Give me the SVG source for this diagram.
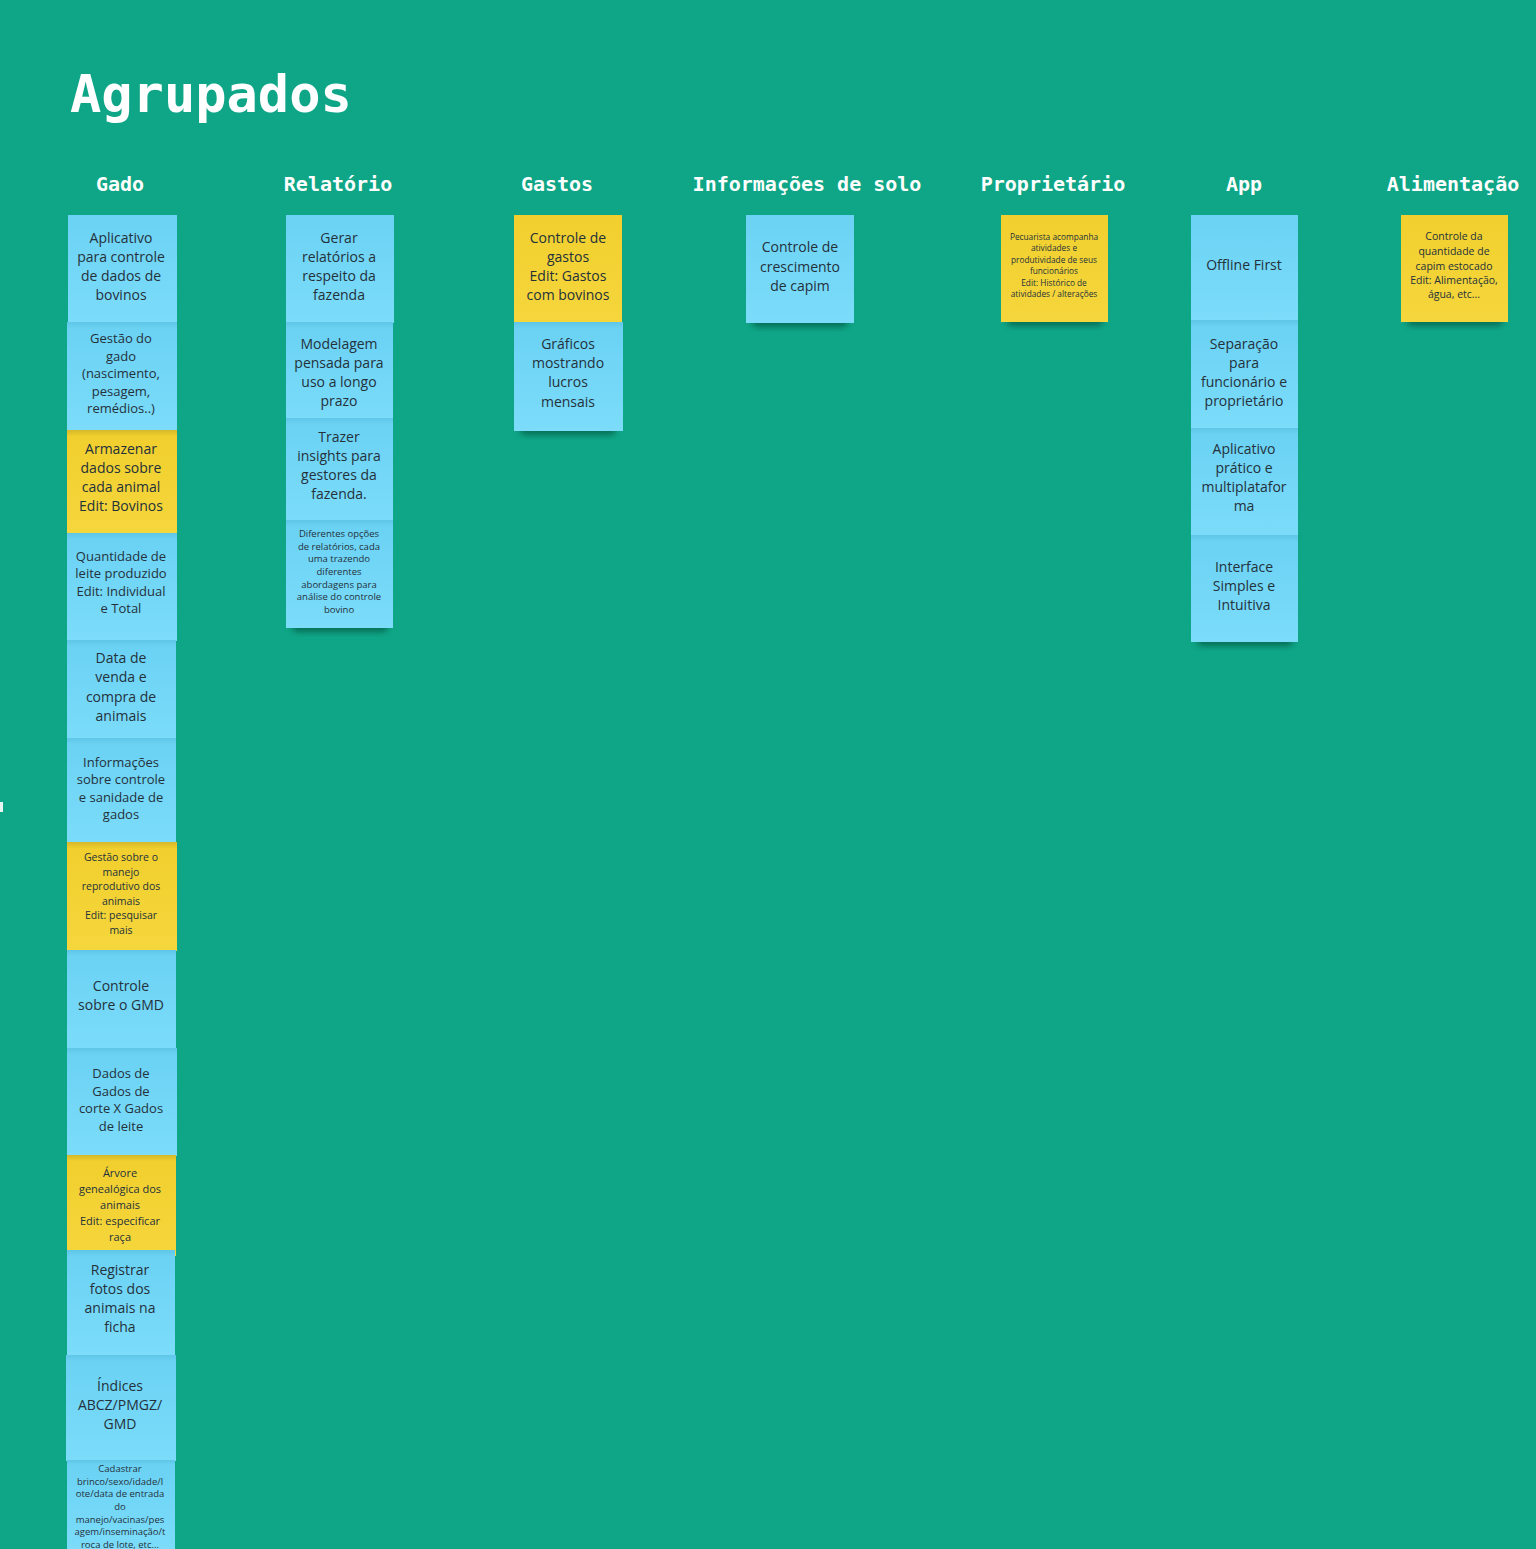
<svg xmlns="http://www.w3.org/2000/svg" width="1536" height="1549" viewBox="0 0 1536 1549">
<defs>
<filter id="sh" x="-20%" y="-50%" width="140%" height="200%"><feGaussianBlur stdDeviation="3"/></filter>
<linearGradient id="gb" x1="0" y1="0" x2="0" y2="1"><stop offset="0" stop-color="#5FC6E8"/><stop offset="0.06" stop-color="#6BD2F4"/><stop offset="1" stop-color="#7CDCFA"/></linearGradient>
<linearGradient id="gb0" x1="0" y1="0" x2="0" y2="1"><stop offset="0" stop-color="#6BD2F4"/><stop offset="1" stop-color="#7CDCFA"/></linearGradient>
<linearGradient id="gy" x1="0" y1="0" x2="0" y2="1"><stop offset="0" stop-color="#D6B829"/><stop offset="0.06" stop-color="#F1CF2E"/><stop offset="1" stop-color="#F5D63C"/></linearGradient>
<linearGradient id="gy0" x1="0" y1="0" x2="0" y2="1"><stop offset="0" stop-color="#F1CF2E"/><stop offset="1" stop-color="#F5D63C"/></linearGradient>
</defs>
<style>
.bg{fill:#0FA687}
.title{font-family:"DejaVu Sans Mono","Liberation Mono",monospace;font-weight:bold;fill:#fff}
.h{font-family:"DejaVu Sans Mono","Liberation Mono",monospace;font-weight:bold;font-size:20px;fill:#fff;text-anchor:middle}
.b{fill:url(#gb)}
.b0{fill:url(#gb0)}
.y{fill:url(#gy)}
.y0{fill:url(#gy0)}
.t{font-family:"Open Sans","Noto Sans",sans-serif;fill:#24313b;text-anchor:middle}
.s14{font-size:14px}
.s13{font-size:13px}
.s11{font-size:11px}
.s10{font-size:10.5px}
.s9{font-size:9.5px}
.s8{font-size:8.3px}
.shadow{fill:#06402f;opacity:0.55;filter:url(#sh)}
</style>
<rect class="bg" x="0" y="0" width="1536" height="1549"/>
<rect x="0" y="802" width="3" height="10" fill="#e8f4f0"/>
<text class="title" x="70" y="112" font-size="52">Agrupados</text>
<g id="headers">
<text class="h" x="120" y="191">Gado</text>
<text class="h" x="338" y="191">Relatório</text>
<text class="h" x="557" y="191">Gastos</text>
<text class="h" x="807" y="191">Informações de solo</text>
<text class="h" x="1053" y="191">Proprietário</text>
<text class="h" x="1244" y="191">App</text>
<text class="h" x="1453" y="191">Alimentação</text>
</g>
<g id="shadows">
<rect class="shadow" x="292" y="622" width="96" height="10" rx="5"/>
<rect class="shadow" x="520" y="425" width="96" height="10" rx="5"/>
<rect class="shadow" x="752" y="317" width="96" height="10" rx="5"/>
<rect class="shadow" x="1007" y="316" width="96" height="10" rx="5"/>
<rect class="shadow" x="1197" y="636" width="96" height="10" rx="5"/>
<rect class="shadow" x="1407" y="316" width="96" height="10" rx="5"/>
</g>
<g id="connectors"></g>
<g id="gado">
<g id="g1"><rect class="b0" x="68" y="215" width="109" height="108"/><text class="t s14"><tspan x="121" y="243">Aplicativo</tspan><tspan x="121" y="262">para controle</tspan><tspan x="121" y="281">de dados de</tspan><tspan x="121" y="300">bovinos</tspan></text></g>
<g id="g2"><rect class="b" x="67" y="322" width="110" height="109"/><text class="t s13"><tspan x="121" y="343">Gestão do</tspan><tspan x="121" y="360.5">gado</tspan><tspan x="121" y="378">(nascimento,</tspan><tspan x="121" y="395.5">pesagem,</tspan><tspan x="121" y="413">remédios..)</tspan></text></g>
<g id="g3"><rect class="y" x="67" y="430" width="110" height="105"/><text class="t s14"><tspan x="121" y="454">Armazenar</tspan><tspan x="121" y="473">dados sobre</tspan><tspan x="121" y="492">cada animal</tspan><tspan x="121" y="511">Edit: Bovinos</tspan></text></g>
<g id="g4"><rect class="b" x="67" y="533" width="110" height="108"/><text class="t s13"><tspan x="121" y="561">Quantidade de</tspan><tspan x="121" y="578">leite produzido</tspan><tspan x="121" y="596">Edit: Individual</tspan><tspan x="121" y="613">e Total</tspan></text></g>
<g id="g5"><rect class="b" x="67" y="640" width="109" height="106"/><text class="t s14"><tspan x="121" y="663">Data de</tspan><tspan x="121" y="682">venda e</tspan><tspan x="121" y="702">compra de</tspan><tspan x="121" y="721">animais</tspan></text></g>
<g id="g6"><rect class="b" x="67" y="738" width="109" height="105"/><text class="t s13"><tspan x="121" y="767">Informações</tspan><tspan x="121" y="784">sobre controle</tspan><tspan x="121" y="802">e sanidade de</tspan><tspan x="121" y="819">gados</tspan></text></g>
<g id="g7"><rect class="y" x="67" y="842" width="110" height="109"/><text class="t s10"><tspan x="121" y="861">Gestão sobre o</tspan><tspan x="121" y="875.5">manejo</tspan><tspan x="121" y="890">reprodutivo dos</tspan><tspan x="121" y="904.5">animais</tspan><tspan x="121" y="919">Edit: pesquisar</tspan><tspan x="121" y="933.5">mais</tspan></text></g>
<g id="g8"><rect class="b" x="67" y="950" width="109" height="100"/><text class="t s14"><tspan x="121" y="991">Controle</tspan><tspan x="121" y="1010">sobre o GMD</tspan></text></g>
<g id="g9"><rect class="b" x="67" y="1048" width="110" height="108"/><text class="t s13"><tspan x="121" y="1078">Dados de</tspan><tspan x="121" y="1096">Gados de</tspan><tspan x="121" y="1113">corte X Gados</tspan><tspan x="121" y="1131">de leite</tspan></text></g>
<g id="g10"><rect class="y" x="67" y="1155" width="109" height="101"/><text class="t s11"><tspan x="120" y="1177">Árvore</tspan><tspan x="120" y="1193">genealógica dos</tspan><tspan x="120" y="1209">animais</tspan><tspan x="120" y="1225">Edit: especificar</tspan><tspan x="120" y="1241">raça</tspan></text></g>
<g id="g11"><rect class="b" x="67" y="1250" width="108" height="106"/><text class="t s14"><tspan x="120" y="1275">Registrar</tspan><tspan x="120" y="1294">fotos dos</tspan><tspan x="120" y="1313">animais na</tspan><tspan x="120" y="1332">ficha</tspan></text></g>
<g id="g12"><rect class="b" x="66" y="1355" width="110" height="106"/><text class="t s14"><tspan x="120" y="1391">Índices</tspan><tspan x="120" y="1410">ABCZ/PMGZ/</tspan><tspan x="120" y="1429">GMD</tspan></text></g>
<g id="g13"><rect class="b" x="67" y="1460" width="108" height="89"/><text class="t s9"><tspan x="120" y="1472">Cadastrar</tspan><tspan x="120" y="1485">brinco/sexo/idade/l</tspan><tspan x="120" y="1497">ote/data de entrada</tspan><tspan x="120" y="1510">do</tspan><tspan x="120" y="1523">manejo/vacinas/pes</tspan><tspan x="120" y="1535">agem/inseminação/t</tspan><tspan x="120" y="1548">roca de lote, etc...</tspan></text></g>
</g>
<g id="relatorio">
<g id="r1"><rect class="b0" x="286" y="215" width="108" height="108"/><text class="t s14"><tspan x="339" y="243">Gerar</tspan><tspan x="339" y="262">relatórios a</tspan><tspan x="339" y="281">respeito da</tspan><tspan x="339" y="300">fazenda</tspan></text></g>
<g id="r2"><rect class="b" x="286" y="322" width="107" height="107"/><text class="t s14"><tspan x="339" y="349">Modelagem</tspan><tspan x="339" y="368">pensada para</tspan><tspan x="339" y="387">uso a longo</tspan><tspan x="339" y="406">prazo</tspan></text></g>
<g id="r3"><rect class="b" x="286" y="418" width="107" height="105"/><text class="t s14"><tspan x="339" y="442">Trazer</tspan><tspan x="339" y="461">insights para</tspan><tspan x="339" y="480">gestores da</tspan><tspan x="339" y="499">fazenda.</tspan></text></g>
<g id="r4"><rect class="b" x="286" y="520" width="107" height="108"/><text class="t s9"><tspan x="339" y="537">Diferentes opções</tspan><tspan x="339" y="550">de relatórios, cada</tspan><tspan x="339" y="562">uma trazendo</tspan><tspan x="339" y="575">diferentes</tspan><tspan x="339" y="588">abordagens para</tspan><tspan x="339" y="600">análise do controle</tspan><tspan x="339" y="613">bovino</tspan></text></g>
</g>
<g id="gastos">
<g id="ga1"><rect class="y0" x="514" y="215" width="108" height="108"/><text class="t s14"><tspan x="568" y="243">Controle de</tspan><tspan x="568" y="262">gastos</tspan><tspan x="568" y="281">Edit: Gastos</tspan><tspan x="568" y="300">com bovinos</tspan></text></g>
<g id="ga2"><rect class="b" x="514" y="322" width="109" height="109"/><text class="t s14"><tspan x="568" y="349">Gráficos</tspan><tspan x="568" y="368">mostrando</tspan><tspan x="568" y="387">lucros</tspan><tspan x="568" y="407">mensais</tspan></text></g>
</g>
<g id="solo">
<g id="s1"><rect class="b0" x="746" y="215" width="108" height="108"/><text class="t s14"><tspan x="800" y="252">Controle de</tspan><tspan x="800" y="272">crescimento</tspan><tspan x="800" y="291">de capim</tspan></text></g>
</g>
<g id="proprietario">
<g id="p1"><rect class="y0" x="1001" y="215" width="107" height="107"/><text class="t s8"><tspan x="1054" y="240">Pecuarista acompanha</tspan><tspan x="1054" y="251">atividades e</tspan><tspan x="1054" y="263">produtividade de seus</tspan><tspan x="1054" y="274">funcionários</tspan><tspan x="1054" y="286">Edit: Histórico de</tspan><tspan x="1054" y="297">atividades / alterações</tspan></text></g>
</g>
<g id="app">
<g id="a1"><rect class="b0" x="1191" y="215" width="107" height="106"/><text class="t s14"><tspan x="1244" y="270">Offline First</tspan></text></g>
<g id="a2"><rect class="b" x="1191" y="320" width="107" height="109"/><text class="t s14"><tspan x="1244" y="349">Separação</tspan><tspan x="1244" y="368">para</tspan><tspan x="1244" y="387">funcionário e</tspan><tspan x="1244" y="406">proprietário</tspan></text></g>
<g id="a3"><rect class="b" x="1191" y="428" width="107" height="108"/><text class="t s14"><tspan x="1244" y="454">Aplicativo</tspan><tspan x="1244" y="473">prático e</tspan><tspan x="1244" y="492">multiplatafor</tspan><tspan x="1244" y="511">ma</tspan></text></g>
<g id="a4"><rect class="b" x="1191" y="535" width="107" height="107"/><text class="t s14"><tspan x="1244" y="572">Interface</tspan><tspan x="1244" y="591">Simples e</tspan><tspan x="1244" y="610">Intuitiva</tspan></text></g>
</g>
<g id="alimentacao">
<g id="al1"><rect class="y0" x="1401" y="215" width="107" height="107"/><text class="t s10"><tspan x="1454" y="240">Controle da</tspan><tspan x="1454" y="255">quantidade de</tspan><tspan x="1454" y="270">capim estocado</tspan><tspan x="1454" y="284">Edit: Alimentação,</tspan><tspan x="1454" y="298">água, etc...</tspan></text></g>
</g>
</svg>
